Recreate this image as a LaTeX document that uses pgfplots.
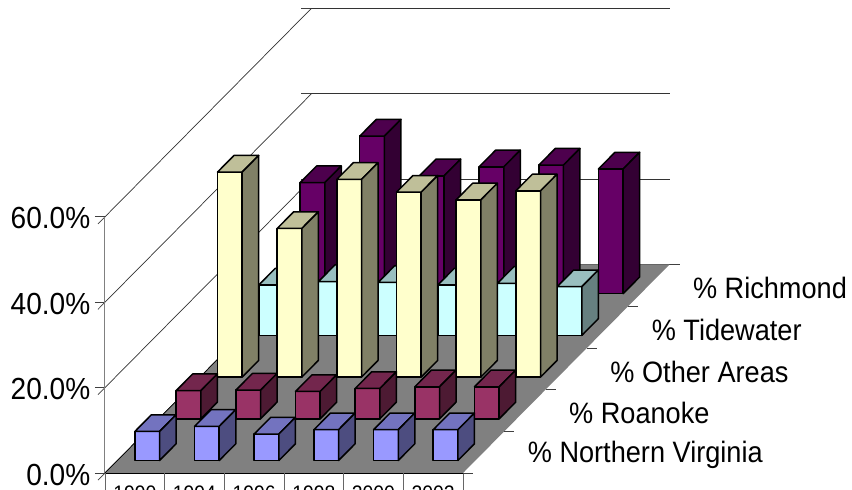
\documentclass[border=0pt]{standalone}
\usepackage{fontspec}
\usepackage{pgfplots}
\usepackage{pgfplotstable}
\pgfplotsset{compat=1.18}
\setmainfont{Liberation Sans}
\newfontfamily\narrowarial[FakeStretch=0.92]{Liberation Sans}
\newcommand{\valuefont}{\narrowarial\fontsize{30.5}{32}\selectfont}
\newcommand{\seriesfont}{\narrowarial\fontsize{29.5}{31}\selectfont}
\newcommand{\yearfont}{\narrowarial\fontsize{21}{23}\selectfont}

% Face colours: front, top, side
\definecolor{nvF}{HTML}{9999FF}\definecolor{nvT}{HTML}{7373BF}\definecolor{nvS}{HTML}{4D4D80}
\definecolor{roF}{HTML}{993366}\definecolor{roT}{HTML}{73264D}\definecolor{roS}{HTML}{4D1A33}
\definecolor{otF}{HTML}{FFFFCC}\definecolor{otT}{HTML}{BFBF99}\definecolor{otS}{HTML}{808066}
\definecolor{tiF}{HTML}{CCFFFF}\definecolor{tiT}{HTML}{99BFBF}\definecolor{tiS}{HTML}{668080}
\definecolor{riF}{HTML}{660066}\definecolor{riT}{HTML}{4D004D}\definecolor{riS}{HTML}{330033}

% Share of each region, percent, by year
\pgfplotstableread{
year nv  ro  ot   ti   ri
1990 6.8 6.6 48.0 11.8 26.0
1994 8.0 6.7 34.8 12.6 36.9
1996 6.2 6.4 46.3 12.4 27.6
1998 7.2 7.1 43.3 11.8 29.7
2000 7.2 7.5 41.5 12.2 30.1
2002 7.2 7.5 43.6 11.4 29.2
}\sharetable

% One row of cuboids: #1 column name, #2 row index in the depth direction, #3 colour prefix
\newcommand{\barrow}[3]{%
  \pgfplotsforeachungrouped \c in {0,...,5}{%
    \pgfplotstablegetelem{\c}{#1}\of\sharetable
    \let\v\pgfplotsretval
    \pgfmathsetmacro{\xa}{\c+0.293}\pgfmathsetmacro{\xb}{\c+0.707}%
    \pgfmathsetmacro{\ya}{#2+0.3}\pgfmathsetmacro{\yb}{#2+0.7}%
    \edef\temp{%
      \noexpand\addplot3[draw=black,line width=1.5pt,line join=round,fill=#3F]
        coordinates {(\xa,\ya,0)(\xb,\ya,0)(\xb,\ya,\v)(\xa,\ya,\v)(\xa,\ya,0)} --cycle;
      \noexpand\addplot3[draw=black,line width=1.5pt,line join=round,fill=#3T]
        coordinates {(\xa,\ya,\v)(\xb,\ya,\v)(\xb,\yb,\v)(\xa,\yb,\v)(\xa,\ya,\v)} --cycle;
      \noexpand\addplot3[draw=black,line width=1.5pt,line join=round,fill=#3S]
        coordinates {(\xb,\ya,0)(\xb,\yb,0)(\xb,\yb,\v)(\xb,\ya,\v)(\xb,\ya,0)} --cycle;
    }\temp
  }%
}

\begin{document}
\begin{tikzpicture}
\useasboundingbox (0,0) rectangle (852pt,490pt);
\clip (0,0) rectangle (852pt,490pt);
\begin{axis}[
  at={(105pt,17pt)}, anchor=origin,
  x={(59.67pt,0pt)}, y={(41.3pt,41.7pt)}, z={(0pt,4.27pt)},
  xmin=0, xmax=6, ymin=0, ymax=5, zmin=0, zmax=60,
  clip=false,
  axis line style={draw=none},
  zmajorgrids,
  major grid style={color=black!80,line width=0.7pt},
  ztick={0,20,40,60},
  zticklabels={0.0\%,20.0\%,40.0\%,60.0\%},
  ztick pos=left,
  xtick={0.5,1.5,2.5,3.5,4.5,5.5},
  xticklabels={1990,1994,1996,1998,2000,2002},
  ytick={0.5,1.5,2.5,3.5,4.5},
  yticklabels={\% Northern Virginia,\% Roanoke,\% Other Areas,\% Tidewater,\% Richmond},
  tick align=outside,
  ztick style={color=black!75,line width=0.7pt},
  xtick style={draw=none},
  ytick style={draw=none},
  major tick length=10pt,
  zticklabel style={font=\valuefont,anchor=east,inner sep=0pt,xshift=-7.5pt,yshift=5.5pt},
  xticklabel style={font=\yearfont,anchor=north,inner sep=0pt,xshift=7pt,yshift=-6pt},
  yticklabel style={font=\seriesfont,anchor=west,inner sep=0pt,xshift=34pt,yshift=-3pt},
]
% Floor of the plot
\addplot3[fill=black!50,draw=none] coordinates {(0,0,0)(6,0,0)(6,5,0)(0,5,0)(0,0,0)} --cycle;
% Edges at the corner and along the front
\addplot3[draw=black!50,line width=1pt] coordinates {(0,0,0)(0,0,60)};
\addplot3[draw=black,line width=0.8pt] coordinates {(0,0,0)(6,0,0)};
\addplot3[draw=black,line width=0.7pt] coordinates {(0,0,0)(0,5,0)};
% Year dividers below the front edge
\pgfplotsforeachungrouped \c in {0,...,6}{%
  \edef\temp{\noexpand\addplot3[draw=black!60,line width=0.8pt] coordinates {(\c,0,0)(\c,0,-5)};}\temp
}
% Short marks to the right of the floor, between the region rows
\pgfplotsforeachungrouped \s in {0,...,5}{%
  \edef\temp{\noexpand\addplot3[draw=black!75,line width=0.7pt] coordinates {(6,\s,0)(6.17,\s,0)};}\temp
}
% Rows, furthest first
\barrow{ri}{4}{ri}
\barrow{ti}{3}{ti}
\barrow{ot}{2}{ot}
\barrow{ro}{1}{ro}
\barrow{nv}{0}{nv}
\end{axis}
\end{tikzpicture}
\end{document}
